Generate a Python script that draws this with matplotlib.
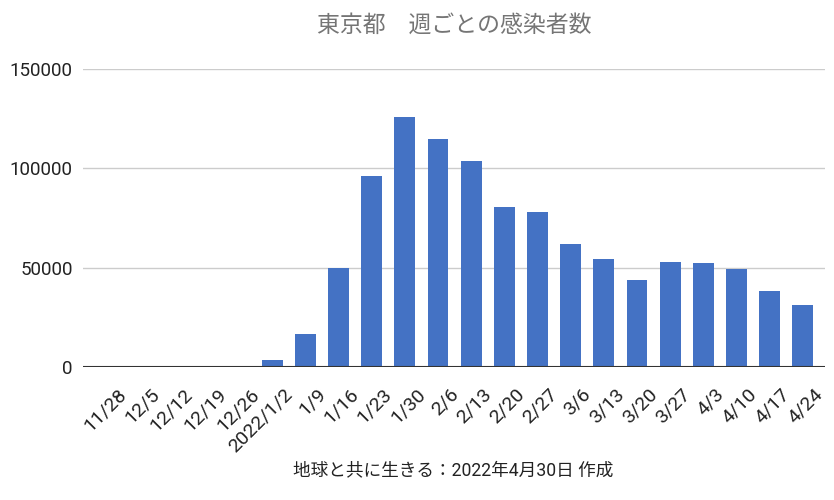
import numpy as np
import matplotlib
matplotlib.use("Agg")
import matplotlib.pyplot as plt

plt.rcParams['font.family'] = ['Roboto', 'Noto Sans CJK JP', 'DejaVu Sans']

# ---------------------- data ----------------------
weeks = ['11/28', '12/5', '12/12', '12/19', '12/26', '2022/1/2', '1/9', '1/16',
         '1/23', '1/30', '2/6', '2/13', '2/20', '2/27', '3/6', '3/13', '3/20',
         '3/27', '4/3', '4/10', '4/17', '4/24']
cases = [90, 110, 150, 200, 600, 3300, 16500, 50000,
         96200, 125700, 114800, 103800, 80300, 78100, 62000, 54500, 43600,
         53000, 52400, 49500, 38400, 31100]
yticks = [0, 50000, 100000, 150000]

title = '東京都\u3000週ごとの感染者数'
footer = '地球と共に生きる：2022年4月30日 作成'

# ---------------------- figure ----------------------
fig = plt.figure(figsize=(8.34, 5.0), dpi=100)
ax = fig.add_axes([0.0995, 0.266, 0.8895, 0.596])

x = np.arange(len(weeks))
ax.bar(x, cases, width=0.63, color='#4472c4', zorder=3)

ax.set_ylim(0, 150000)
ax.set_xlim(-0.7, len(weeks) - 0.34)
ax.set_yticks(yticks)
ax.set_yticklabels([str(v) for v in yticks])
ax.yaxis.grid(True, color='#cccccc', linewidth=1, zorder=0)
ax.axhline(0, color='#333333', linewidth=1.5, zorder=4)

for s in ax.spines.values():
    s.set_visible(False)
ax.tick_params(axis='both', length=0, labelsize=13.5, colors='#222222')
ax.tick_params(axis='y', pad=7.5)

# rotated week labels, placed with an offset from each tick
ax.set_xticks(x)
ax.set_xticklabels([])
for xi, w in zip(x, weeks):
    ax.annotate(w, xy=(xi, 0), xycoords=('data', 'axes fraction'),
                xytext=(11 * 0.72, -18 * 0.72), textcoords='offset points',
                rotation=45, ha='right', va='top', rotation_mode='anchor',
                fontsize=14, color='#222222', annotation_clip=False)

fig.text(0.545, 0.95, title, ha='center', va='center', fontsize=16.5, color='#757575')
fig.text(0.543, 0.06, footer, ha='center', va='center', fontsize=12.7, color='#222222')

fig.savefig('out.png', dpi=100)
